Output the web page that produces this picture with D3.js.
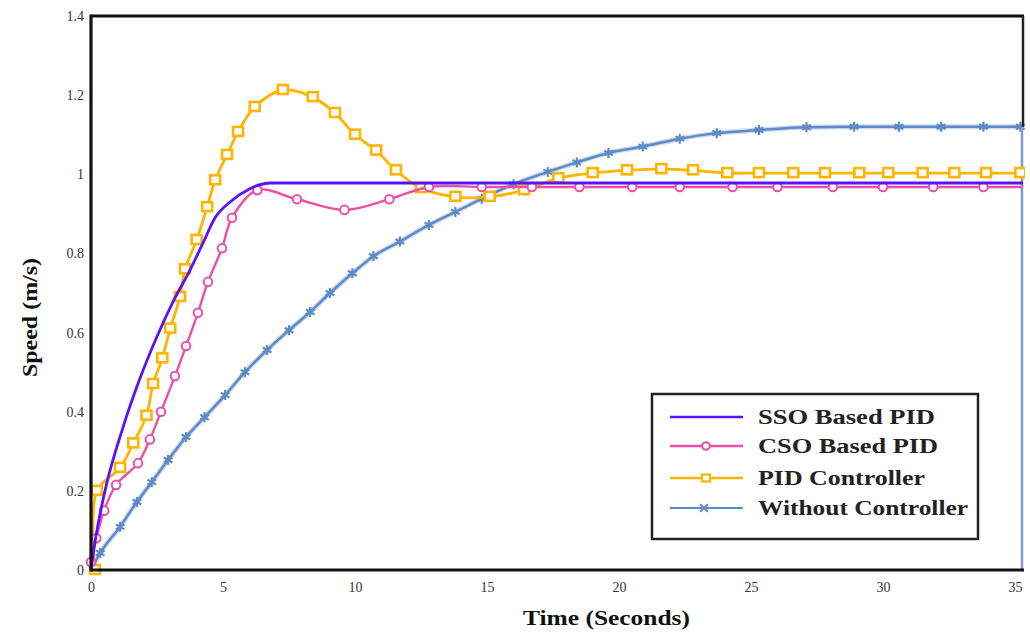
<!DOCTYPE html>
<html><head><meta charset="utf-8">
<script src="https://cdn.jsdelivr.net/npm/d3@7"></script>
<style>body{margin:0;background:#fff}svg{display:block}</style>
</head><body>
<svg id="c" width="1030" height="632"></svg>
<script>
const xTicks = [0,5,10,15,20,25,30,35];
const yTicks = [0,0.2,0.4,0.6,0.8,1,1.2,1.4];
const yTickLabels = ["0","0.2","0.4","0.6","0.8","1","1.2","1.4"];
const seriesNames = ["SSO Based PID","CSO Based PID","PID Controller","Without Controller"];

const ssoT = [0,0.15,0.53,1.21,1.86,2.5,3.1,3.75,4.24,4.7,5.27,6.0,6.8,35.3];
const ssoV = [0,0.07,0.2,0.36,0.485,0.59,0.677,0.758,0.826,0.89,0.93,0.963,0.978,0.978];

const csoT = [0,0.2,0.5,0.95,1.78,2.23,2.65,3.18,3.6,4.05,4.43,4.96,5.34,6.3,7.8,9.6,11.3,12.8,14.8,16.7,18.5,20.5,22.3,24.3,26,28.1,30,31.9,33.8];
const csoV = [0.02,0.08,0.15,0.215,0.27,0.33,0.40,0.49,0.566,0.65,0.728,0.813,0.89,0.96,0.937,0.91,0.937,0.968,0.968,0.968,0.968,0.968,0.968,0.968,0.968,0.968,0.968,0.968,0.968];

const pidT = [0.15,0.22,1.1,1.6,2.1,2.35,2.7,3.0,3.37,3.56,4.0,4.4,4.7,5.15,5.57,6.2,7.27,8.4,9.24,10.0,10.8,11.55,12.5,13.8,15.1,16.4,17.7,19.0,20.3,21.6,22.8,24.1,25.3,26.6,27.8,29.1,30.2,31.5,32.7,33.9,35.2];
const pidV = [0,0.2,0.258,0.32,0.39,0.47,0.535,0.61,0.69,0.76,0.834,0.917,0.985,1.049,1.107,1.17,1.213,1.195,1.155,1.1,1.06,1.01,0.965,0.943,0.943,0.96,0.99,1.003,1.01,1.013,1.01,1.003,1.003,1.003,1.003,1.003,1.003,1.003,1.003,1.003,1.003];

const wocT = [0,0.35,1.1,1.74,2.3,2.92,3.6,4.3,5.08,5.83,6.67,7.5,8.3,9.05,9.9,10.7,11.7,12.8,13.8,14.8,16.0,17.3,18.4,19.6,20.9,22.3,23.7,25.3,27.1,28.9,30.6,32.2,33.8,35.2];
const wocV = [0,0.043,0.109,0.172,0.222,0.278,0.336,0.386,0.442,0.5,0.556,0.606,0.652,0.7,0.75,0.793,0.83,0.872,0.905,0.938,0.975,1.006,1.03,1.054,1.07,1.09,1.104,1.112,1.119,1.12,1.12,1.12,1.12,1.12];

const colors = ["#5a12f6","#ec4fa9","#ffb400","#5e8bc6"];

const svg = d3.select("#c");
const L=91, R=1023, T=16, B=570;
const x = d3.scaleLinear().domain([0,35.3]).range([L,R]);
const y = d3.scaleLinear().domain([0,1.4]).range([B,T]);

const zip = (a,b)=>a.map((t,i)=>[t,b[i]]);
const line = d3.line().x(d=>x(d[0])).y(d=>y(d[1]));

// axes labels
const xa = svg.append("g").attr("transform",`translate(0,${B})`)
  .call(d3.axisBottom(x).tickValues(xTicks).tickSize(0).tickPadding(12).tickFormat(d3.format("d")));
const ya = svg.append("g").attr("transform",`translate(${L},0)`)
  .call(d3.axisLeft(y).tickValues(yTicks).tickSize(0).tickPadding(7).tickFormat((d,i)=>yTickLabels[i]));
[xa,ya].forEach(g=>{g.select(".domain").remove();
  g.selectAll("text").attr("font-family","'Liberation Serif',serif").attr("font-size",14).attr("fill","#333");});

// series
svg.append("defs").append("clipPath").attr("id","pc").append("rect")
  .attr("x",L-6).attr("y",T).attr("width",R-L+8).attr("height",B-T+6);
const g = svg.append("g").attr("clip-path","url(#pc)");

const woc = zip(wocT,wocV), pid = zip(pidT,pidV), cso = zip(csoT,csoV), sso = zip(ssoT,ssoV);

g.append("path").datum(woc).attr("d",line.curve(d3.curveMonotoneX)).attr("fill","none")
  .attr("stroke","#a9c2e3").attr("stroke-width",5).attr("opacity",0.6);
g.append("path").datum(woc).attr("d",line.curve(d3.curveMonotoneX)).attr("fill","none")
  .attr("stroke",colors[3]).attr("stroke-width",2.5);
const ast = d3.symbol().type(d3.symbolAsterisk).size(70);
g.selectAll(".mw").data(woc.slice(1)).join("path").attr("d",ast)
  .attr("transform",d=>`translate(${x(d[0])},${y(d[1])})`)
  .attr("fill","none").attr("stroke",colors[3]).attr("stroke-width",2.2);
// final drop at the right edge
g.append("line").attr("x1",x(35.3)-1).attr("x2",x(35.3)-1).attr("y1",y(wocV[wocV.length-1])).attr("y2",y(0))
  .attr("stroke","#7f9cc8").attr("stroke-width",2.5);

g.append("path").datum(pid).attr("d",line.curve(d3.curveCatmullRom.alpha(0.5))).attr("fill","none")
  .attr("stroke",colors[2]).attr("stroke-width",2.8);
g.selectAll(".mp").data(pid).join("rect")
  .attr("x",d=>x(d[0])-5).attr("y",d=>y(d[1])-5).attr("width",10).attr("height",9)
  .attr("fill","#fff").attr("stroke",colors[2]).attr("stroke-width",2.6);

g.append("path").datum(cso.concat([[35.3,0.968]])).attr("d",line.curve(d3.curveCatmullRom.alpha(0.5))).attr("fill","none")
  .attr("stroke",colors[1]).attr("stroke-width",2.4);
g.selectAll(".mc").data(cso).join("circle")
  .attr("cx",d=>x(d[0])).attr("cy",d=>y(d[1])).attr("r",4.3)
  .attr("fill","#fff").attr("stroke",colors[1]).attr("stroke-width",2);

g.append("path").datum(sso).attr("d",line.curve(d3.curveMonotoneX)).attr("fill","none")
  .attr("stroke",colors[0]).attr("stroke-width",2.8);

// frame
svg.append("line").attr("x1",L).attr("x2",R+1).attr("y1",T).attr("y2",T).attr("stroke","#111").attr("stroke-width",3);
svg.append("line").attr("x1",R).attr("x2",R).attr("y1",T).attr("y2",y(wocV[wocV.length-1])).attr("stroke","#222").attr("stroke-width",2.5);
svg.append("line").attr("x1",L).attr("x2",L).attr("y1",T-1.5).attr("y2",B+1.5).attr("stroke","#111").attr("stroke-width",3.2);
svg.append("line").attr("x1",L).attr("x2",R+1).attr("y1",B).attr("y2",B).attr("stroke","#111").attr("stroke-width",3.2);

// axis titles
svg.append("text").attr("x",523).attr("y",625)
  .attr("font-family","'Liberation Serif',serif").attr("font-weight","bold").attr("font-size",21)
  .attr("textLength",167).attr("lengthAdjust","spacingAndGlyphs")
  .attr("fill","#111").text("Time (Seconds)");
svg.append("text").attr("transform","translate(37,377) rotate(-90)")
  .attr("font-family","'Liberation Serif',serif").attr("font-weight","bold").attr("font-size",21)
  .attr("textLength",119).attr("lengthAdjust","spacingAndGlyphs")
  .attr("fill","#111").text("Speed (m/s)");

// legend
const lg = svg.append("g");
lg.append("rect").attr("x",652).attr("y",394).attr("width",326).attr("height",145)
  .attr("fill","#fff").attr("stroke","#222").attr("stroke-width",2.5);
const rowsY = [417,446,478,508];
const textW = [177,180,167,210];
seriesNames.forEach((n,i)=>{
  const yy = rowsY[i];
  lg.append("line").attr("x1",670).attr("x2",743).attr("y1",yy).attr("y2",yy)
    .attr("stroke",colors[i]).attr("stroke-width",i===3?1.8:2.5);
  if(i===1) lg.append("circle").attr("cx",706).attr("cy",yy).attr("r",3.8).attr("fill","#fff").attr("stroke",colors[1]).attr("stroke-width",2);
  if(i===2) lg.append("rect").attr("x",702).attr("y",yy-3.5).attr("width",8).attr("height",7).attr("fill","#fff").attr("stroke",colors[2]).attr("stroke-width",2.2);
  if(i===3) lg.append("path").attr("d",d3.symbol().type(d3.symbolTimes).size(40)).attr("transform",`translate(704,${yy})`).attr("fill","none").attr("stroke",colors[3]).attr("stroke-width",2.2);
  lg.append("text").attr("x",758).attr("y",yy+6.5).attr("font-family","'Liberation Serif',serif")
    .attr("font-size",20).attr("font-weight","bold").attr("fill","#222")
    .attr("textLength",textW[i]).attr("lengthAdjust","spacingAndGlyphs").text(n);
});
</script>
</body></html>
